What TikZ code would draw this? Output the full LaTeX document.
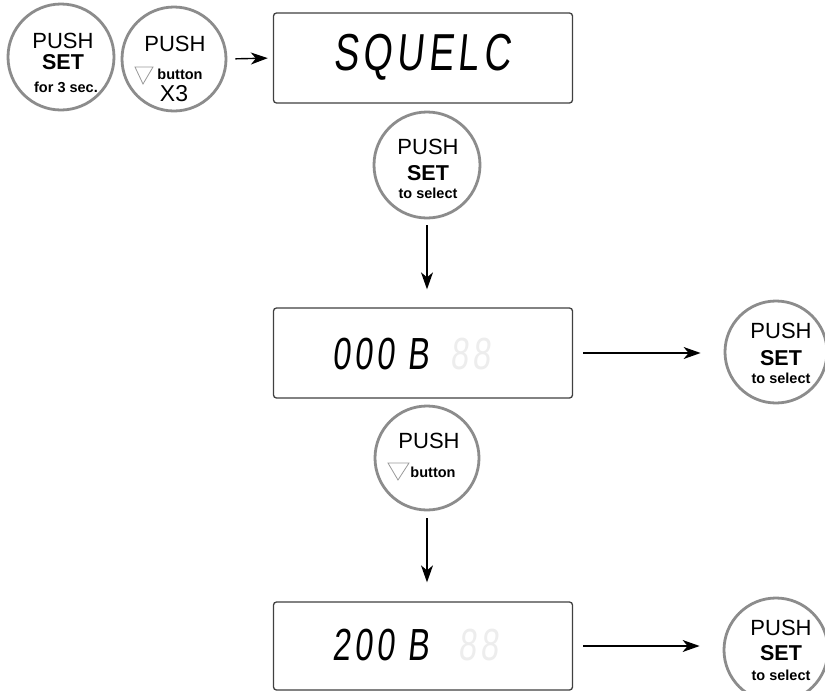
\documentclass[tikz,border=0pt]{standalone}
\usepackage{fontspec}
\setmainfont{Liberation Sans}
\newfontfamily\lcdfont{Liberation Sans}[FakeStretch=0.72,FakeSlant=0.1,LetterSpace=9]
\usetikzlibrary{arrows.meta}
\begin{document}
\begin{tikzpicture}[x=1pt,y=-1pt,
  pushcirc/.style={circle,draw=black!45,line width=2.8pt,inner sep=0pt,minimum size=#1},
  lcdbox/.style={rectangle,draw=black!75,line width=1.3pt,rounded corners=3pt,minimum width=299pt,minimum height=#1,inner sep=0pt},
  lbl/.style={inner sep=0pt,anchor=center},
  big/.style={lbl,font=\fontsize{22}{22}\selectfont},
  bigb/.style={lbl,font=\fontsize{21.5}{21.5}\selectfont\bfseries},
  small/.style={lbl,font=\fontsize{14.5}{14.5}\selectfont\bfseries},
  lcdtxt/.style={inner sep=0pt,anchor=west,font=\fontsize{#1}{#1}\selectfont\lcdfont},
  ghost/.style={inner sep=0pt,anchor=west,text=black!7,font=\fontsize{#1}{#1}\selectfont\lcdfont},
  arr/.style={draw=black,line width=1.4pt,-{Stealth[length=17pt,width=12pt,inset=5pt]}},
  tri/.style={draw=black!40,line width=0.8pt}
]
\useasboundingbox (0,0) rectangle (825,691);
\fill[white] (0,0) rectangle (825,691);

% circles
\node[pushcirc=106pt] (c1) at (61,57) {};
\node[pushcirc=104pt] (c2) at (174,59) {};
\node[pushcirc=106pt] (c3) at (427,165) {};
\node[pushcirc=102pt] (c4) at (776,352) {};
\node[pushcirc=104pt] (c5) at (427,458) {};
\node[pushcirc=104pt] (c6) at (776,650) {};

% lcd boxes
\node[lcdbox=90pt] (b1) at (423,58) {};
\node[lcdbox=90pt] (b2) at (423,353) {};
\node[lcdbox=88pt] (b3) at (423,646) {};

% circle texts
\node[big] (c1a) at (63,40.5) {PUSH};
\node[bigb] (c1b) at (63,62.5) {SET};
\node[small] (c1c) at (66,87) {for 3 sec.};

\node[big] (c2a) at (175,44) {PUSH};
\node[small] (c2b) at (180,74) {button};
\node[lbl,font=\fontsize{23}{23}\selectfont] (c2c) at (174,94) {X3};
\draw[tri] (135,67) -- (153,67) -- (143,84) -- cycle;

\node[big] (c3a) at (428,147) {PUSH};
\node[bigb] (c3b) at (428,173) {SET};
\node[small] (c3c) at (428,193) {to select};

\node[big] (c4a) at (781,331) {PUSH};
\node[bigb] (c4b) at (781,358) {SET};
\node[small] (c4c) at (781,378) {to select};

\node[big] (c5a) at (429,441) {PUSH};
\node[small] (c5b) at (433,472) {button};
\draw[tri] (388,463) -- (409,463) -- (398,480) -- cycle;

\node[big] (c6a) at (781,628) {PUSH};
\node[bigb] (c6b) at (781,653) {SET};
\node[small] (c6c) at (781,675) {to select};

% lcd texts
\node[lcdtxt=52] (t1) at (333,57) {SQUELC};
\node[lcdtxt=45] (t2) at (332,354) {000 B};
\node[ghost=45] (g2) at (450,354) {88};
\node[lcdtxt=45] (t3) at (332,645) {200 B};
\node[ghost=45] (g3) at (458,645) {88};

% connectors
\draw[arr,shorten <=8pt,shorten >=5pt] (c2.east) -- (b1.west);
\draw[arr,shorten <=6pt,shorten >=18pt] (c3.south) -- (c3.south |- b2.north);
\draw[arr,shorten <=7pt,shorten >=19pt] (c5.south) -- (c5.south |- b3.north);
\draw[arr,shorten <=10pt,shorten >=23pt] (b2.east) -- (b2.east -| c4.west);
\draw[arr,shorten <=10pt,shorten >=23pt] (b3.east) -- (b3.east -| c6.west);
\end{tikzpicture}
\end{document}
